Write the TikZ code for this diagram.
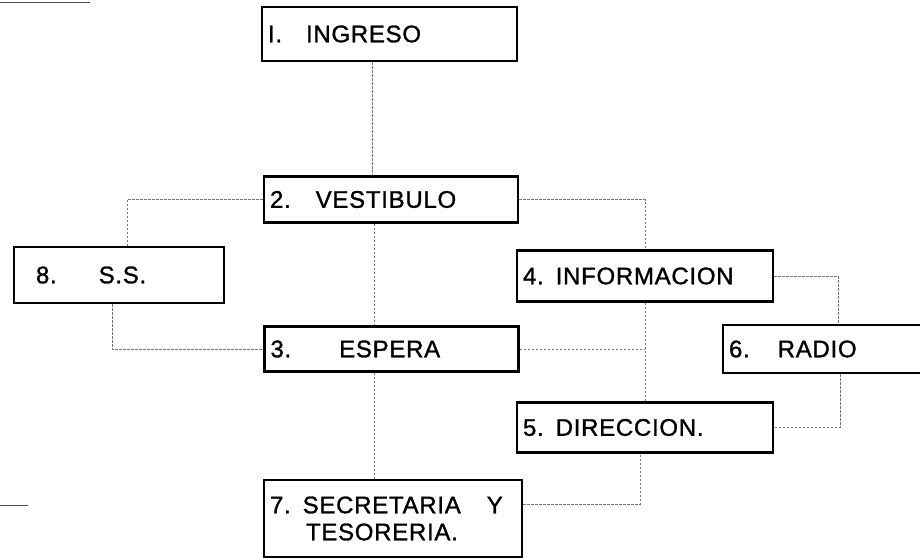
\documentclass[tikz,border=0pt]{standalone}
\usepackage{fontspec}
\setmainfont{Liberation Sans}[LetterSpace=3,FakeBold=1.2]
\begin{document}
\begin{tikzpicture}[x=1pt,y=-1pt,
  box/.style={draw=black, line width=2.6pt, rectangle, inner xsep=5pt, inner ysep=0pt,
    font=\fontsize{24}{27}\selectfont, align=left, anchor=center},
  conn/.style={draw=black!55, line width=0.6pt, dash pattern=on 2.5pt off 1.5pt},
  scanmark/.style={draw=black!70, line width=0.8pt}]
\useasboundingbox (0,0) rectangle (920,557);
\fill[white] (0,0) rectangle (920,557);
% boxes
\node[box, minimum width=255pt, minimum height=54pt, text width=243pt] (n1) at (389.5,34) {I.\hspace{24pt}INGRESO};
\node[box, minimum width=254pt, minimum height=46pt, text width=242pt] (n2) at (391,199.5) {2.\hspace{25pt}VESTIBULO};
\node[box, minimum width=210pt, minimum height=56pt, text width=186pt] (n8) at (119,275) {\hspace*{10pt}8.\hspace{42pt}S.S.};
\node[box, minimum width=256pt, minimum height=51pt, text width=244pt] (n4) at (645,276) {4. INFORMACION};
\node[box, minimum width=254pt, minimum height=45pt, text width=242pt] (n3) at (391.5,349) {3.\hspace{48pt}ESPERA};
\node[box, minimum width=200pt, minimum height=48pt, text width=188pt] (n6) at (823,349) {6.\hspace{28pt}RADIO};
\node[box, minimum width=256pt, minimum height=50pt, text width=244pt] (n5) at (645,427.5) {5. DIRECCION.};
\node[box, minimum width=258pt, minimum height=77pt, text width=246pt] (n7) at (393,518.5) {7. SECRETARIA\hspace{26pt}Y\\\hspace*{36pt}TESORERIA.};
% connectors
\draw[conn] ([xshift=-17pt]n1.south) -- ([xshift=-17pt]n1.south |- n2.north);
\draw[conn] (n2.west) -| ([xshift=8pt]n8.north);
\draw[conn] (n2.east) -| (n4.north);
\draw[conn] ([xshift=-17pt]n2.south) -- ([xshift=-17pt]n2.south |- n3.north);
\draw[conn] ([xshift=-7pt]n8.south) |- (n3.west);
\draw[conn] (n3.east) -- (n3.east -| n4.south);
\draw[conn] (n4.south) -- (n5.north);
\draw[conn] (n4.east) -| ([xshift=15pt]n6.north);
\draw[conn] ([xshift=17pt]n6.south) |- (n5.east);
\draw[conn] ([xshift=-17.5pt]n3.south) -- ([xshift=-17.5pt]n3.south |- n7.north);
\draw[conn] ([yshift=14pt]n7.east) -| ([xshift=-5pt]n5.south);
% scan marks
\coordinate (m1a) at (0,2); \coordinate (m1b) at (90,2);
\draw[scanmark] (m1a) -- (m1b);
\coordinate (m2a) at (0,505); \coordinate (m2b) at (28,505);
\draw[scanmark] (m2a) -- (m2b);
\end{tikzpicture}
\end{document}
